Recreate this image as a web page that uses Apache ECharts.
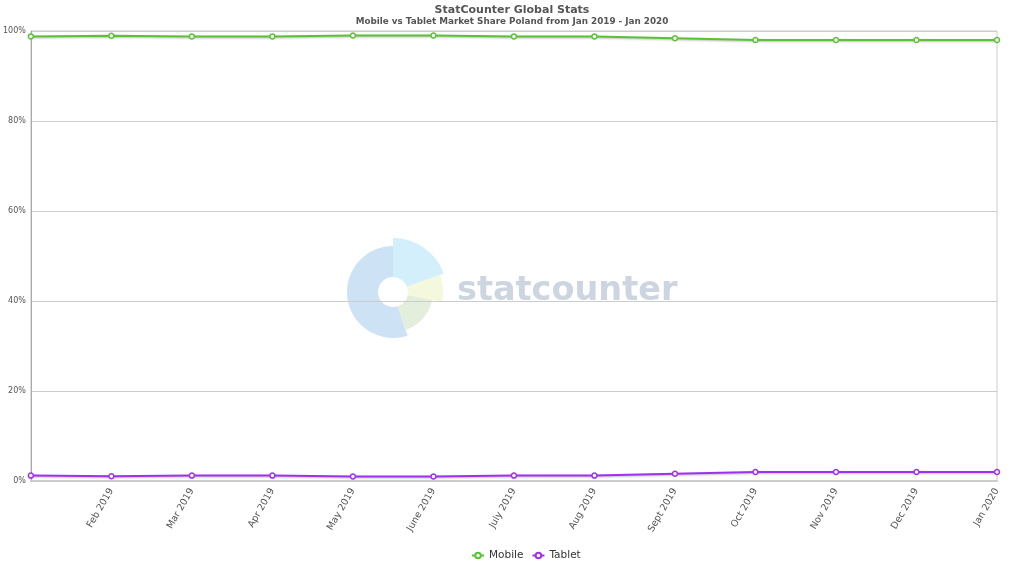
<!DOCTYPE html>
<html>
<head>
<meta charset="utf-8">
<script src="https://cdn.jsdelivr.net/npm/echarts@6/dist/echarts.min.js"></script>
<style>html,body{margin:0;padding:0;background:#fff}#c{width:1024px;height:576px}</style>
</head>
<body>
<div id="c"></div>
<script>
const categories = ['Jan 2019','Feb 2019','Mar 2019','Apr 2019','May 2019','June 2019','July 2019','Aug 2019','Sept 2019','Oct 2019','Nov 2019','Dec 2019','Jan 2020'];
const mobile = [98.8, 98.95, 98.8, 98.8, 99.0, 99.0, 98.8, 98.8, 98.4, 98.0, 98.0, 98.0, 98.0];
const tablet = [1.2, 1.05, 1.2, 1.2, 1.0, 1.0, 1.2, 1.2, 1.6, 2.0, 2.0, 2.0, 2.0];
const yTicks = [0, 20, 40, 60, 80, 100];

const chart = echarts.init(document.getElementById('c'), null, {renderer: 'canvas'});
const font = 'DejaVu Sans';
const cx = 393, cy = 292;
chart.setOption({
  animation: false,
  textStyle: {fontFamily: font},
  title: [
    {text: 'StatCounter Global Stats', left: 'center', top: 0,
     textStyle: {fontFamily: font, fontSize: 11, fontWeight: 'bold', color: '#555'}},
    {text: 'Mobile vs Tablet Market Share Poland from Jan 2019 - Jan 2020', left: 'center', top: 12,
     textStyle: {fontFamily: font, fontSize: 8.8, fontWeight: 'bold', color: '#555'}}
  ],
  graphic: [
    {type: 'sector', z: -10, silent: true, shape: {cx: cx, cy: cy, r: 46, r0: 15, startAngle: 1.25, endAngle: Math.PI * 1.5}, style: {fill: '#cde3f5'}},
    {type: 'sector', z: -10, silent: true, shape: {cx: cx, cy: cy, r: 54, r0: 15, startAngle: -Math.PI / 2, endAngle: -0.35}, style: {fill: '#d3effb'}},
    {type: 'sector', z: -10, silent: true, shape: {cx: cx, cy: cy, r: 50, r0: 15, startAngle: -0.35, endAngle: 0.2}, style: {fill: '#f4f8dc'}},
    {type: 'sector', z: -10, silent: true, shape: {cx: cx, cy: cy, r: 40, r0: 15, startAngle: 0.2, endAngle: 1.25}, style: {fill: '#e3efdc'}},
    {type: 'text', z: -10, silent: true, left: 457, top: 274,
     style: {text: 'statcounter', fontFamily: font, fontWeight: 'bold', fontSize: 33.5, fill: '#ccd5e0'}}
  ],
  grid: {left: 29, right: 27, top: 31, bottom: 95, show: true, borderColor: '#ccc', borderWidth: 1},
  legend: {
    bottom: 10, left: 466, itemWidth: 12, itemHeight: 7, itemGap: 8,
    textStyle: {fontFamily: font, fontSize: 10.5, color: '#333'},
    data: ['Mobile', 'Tablet']
  },
  xAxis: {
    type: 'category', data: categories, boundaryGap: false,
    axisLine: {lineStyle: {color: '#ccc', width: 2}},
    axisTick: {show: false},
    axisLabel: {
      rotate: 60, fontSize: 9.5, color: '#555', margin: 8, fontFamily: font,
      interval: 0,
      formatter: function (v, i) { return i === 0 ? '' : v; }
    }
  },
  yAxis: {
    type: 'value', min: yTicks[0], max: yTicks[yTicks.length - 1], interval: 20,
    axisLine: {show: true, lineStyle: {color: '#aaa'}},
    axisTick: {show: false},
    axisLabel: {fontSize: 8, color: '#555', margin: 5, formatter: '{value}%', fontFamily: font},
    splitLine: {lineStyle: {color: '#ccc'}}
  },
  series: [
    {name: 'Mobile', type: 'line', data: mobile, color: '#5bc236',
     symbol: 'circle', symbolSize: 5,
     itemStyle: {color: '#fff', borderColor: '#5bc236', borderWidth: 1.5},
     lineStyle: {width: 2, color: '#5bc236', shadowColor: 'rgba(0,0,0,0.25)', shadowBlur: 2, shadowOffsetY: 1}},
    {name: 'Tablet', type: 'line', data: tablet, color: '#a030f0',
     symbol: 'circle', symbolSize: 5,
     itemStyle: {color: '#fff', borderColor: '#a030f0', borderWidth: 1.5},
     lineStyle: {width: 2, color: '#a030f0', shadowColor: 'rgba(0,0,0,0.25)', shadowBlur: 2, shadowOffsetY: 1}}
  ]
});
</script>
</body>
</html>
